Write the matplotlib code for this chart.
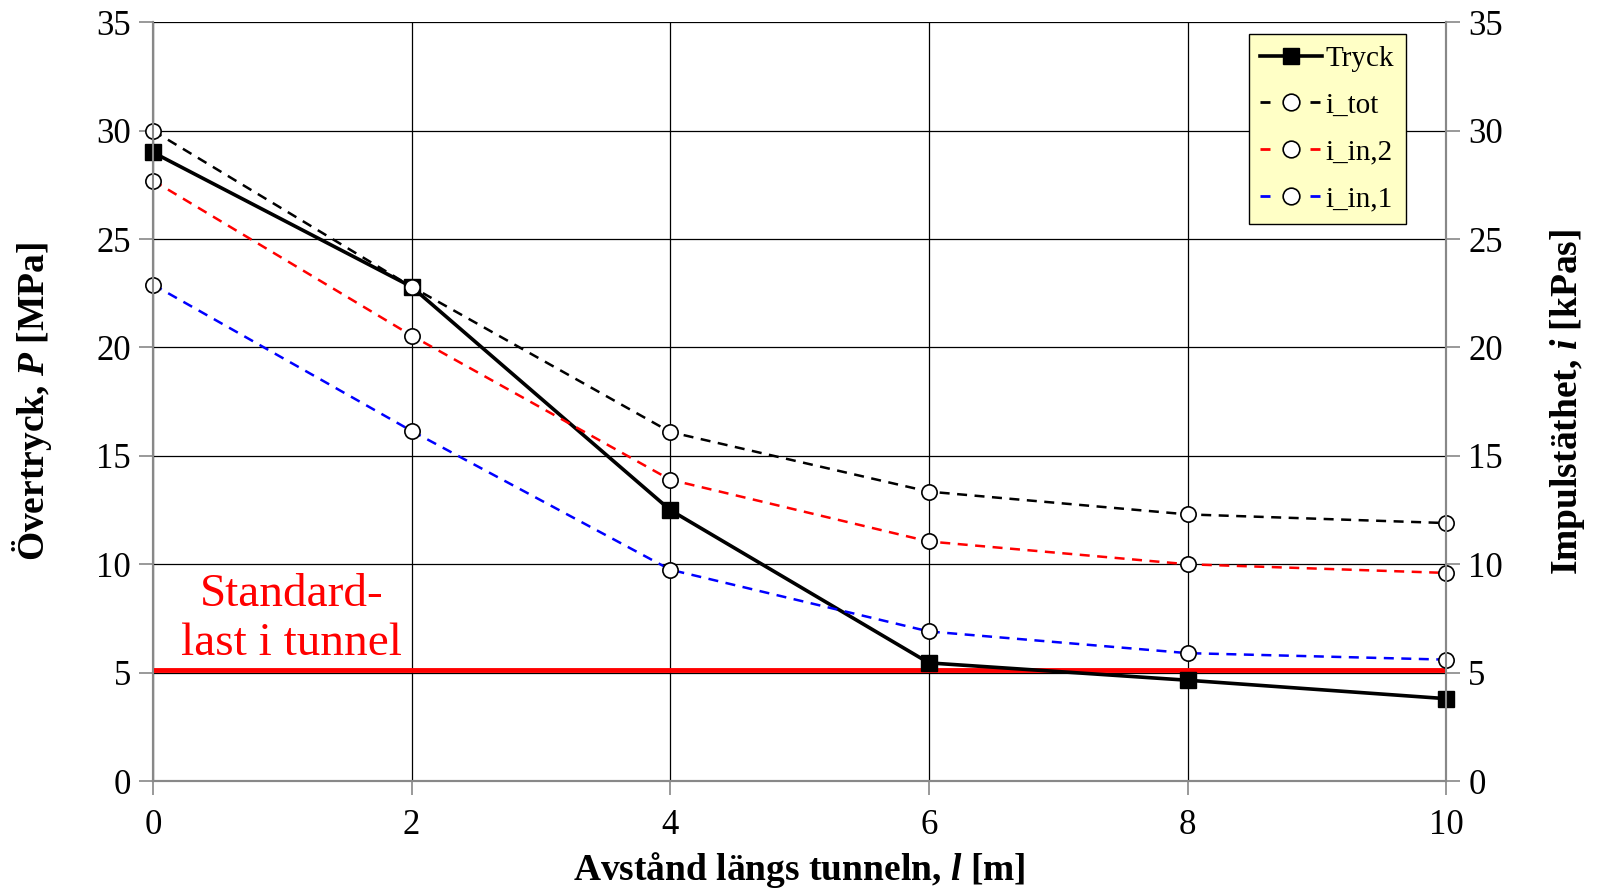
import matplotlib.pyplot as plt
from matplotlib.lines import Line2D

plt.rcParams['font.family'] = ['Liberation Serif', 'DejaVu Serif']
plt.rcParams['mathtext.fontset'] = 'custom'
plt.rcParams['mathtext.it'] = 'Liberation Serif:italic:bold'
plt.rcParams['mathtext.rm'] = 'Liberation Serif:bold'

avstand = [0, 2, 4, 6, 8, 10]
tryck = [29.0, 22.8, 12.5, 5.45, 4.65, 3.8]
i_tot = [30.0, 22.8, 16.1, 13.35, 12.3, 11.9]
i_in2 = [27.7, 20.55, 13.9, 11.05, 10.0, 9.6]
i_in1 = [22.9, 16.15, 9.75, 6.9, 5.9, 5.6]
standardlast = 5.1

fig = plt.figure(figsize=(15.98, 8.92), dpi=100)
ax = fig.add_axes([0.0957, 0.1244, 0.8093, 0.8506])
ax2 = ax.twinx()

ax.grid(True, color='black', linewidth=0.9)
ax.set_axisbelow(True)

ax.axhline(standardlast, xmin=0, xmax=1, color='#ff0000', linewidth=3.5, zorder=3)
ax.text(1.07, 7.45, 'Standard-\nlast i tunnel', color='#ff0000', fontsize=34,
        ha='center', va='center', linespacing=1.2)

ax.plot(avstand, tryck, color='black', lw=2.6, marker='s', ms=11,
        mfc='black', mec='black', zorder=5, clip_on=False)
ax2.plot(avstand, i_tot, color='black', lw=1.8, ls=(0, (4, 3)), marker='o', ms=11,
         mfc='white', mec='black', mew=1.2, clip_on=False)
ax2.plot(avstand, i_in2, color='#ff0000', lw=1.8, ls=(0, (4, 3)), marker='o', ms=11,
         mfc='white', mec='black', mew=1.2, clip_on=False)
ax2.plot(avstand, i_in1, color='#0000ff', lw=1.8, ls=(0, (4, 3)), marker='o', ms=11,
         mfc='white', mec='black', mew=1.2, clip_on=False)

for a in (ax, ax2):
    a.set_xlim(0, 10)
    a.set_ylim(0, 35)
    a.set_yticks(range(0, 36, 5))
    for s in a.spines.values():
        s.set_color('#888888')
        s.set_linewidth(1.5)
    a.tick_params(axis='both', labelsize=25, length=10, width=1.2, color='#888888',
                  direction='out', pad=6)
ax.spines['top'].set_visible(False)
ax2.spines['top'].set_visible(False)
ax.set_xticks(avstand)
ax.tick_params(axis='x', pad=10)

ax.set_xlabel('Avstånd längs tunneln, $l$ [m]', fontsize=27, fontweight='bold', labelpad=6)
ax.set_ylabel('Övertryck, $P$ [MPa]', fontsize=27, fontweight='bold', labelpad=30)
ax2.set_ylabel('Impulstäthet, $i$ [kPas]', fontsize=27, fontweight='bold', labelpad=32)

# legend proxies: "- o -" style like the reference
dash = (0, (3.6, 14.4))
handles = [
    Line2D([], [], color='black', lw=2.6, marker='s', ms=11, mfc='black', mec='black'),
    Line2D([], [], color='black', lw=2, ls=dash, marker='o', ms=12, mfc='white', mec='black', mew=1.2),
    Line2D([], [], color='#ff0000', lw=2, ls=dash, marker='o', ms=12, mfc='white', mec='black', mew=1.2),
    Line2D([], [], color='#0000ff', lw=2, ls=dash, marker='o', ms=12, mfc='white', mec='black', mew=1.2),
]
labels = ['Tryck', 'i_tot', 'i_in,2', 'i_in,1']
leg = ax2.legend(handles, labels, loc='upper right', bbox_to_anchor=(0.969, 0.985),
                 fontsize=21, frameon=True, fancybox=False, framealpha=1,
                 facecolor='#ffffc6', edgecolor='black', handlelength=2.1,
                 handletextpad=0.15, borderpad=0.4, labelspacing=0.7, borderaxespad=0)
leg.get_frame().set_linewidth(1.0)
leg.set_zorder(10)

fig.savefig('out.png', dpi=100)
